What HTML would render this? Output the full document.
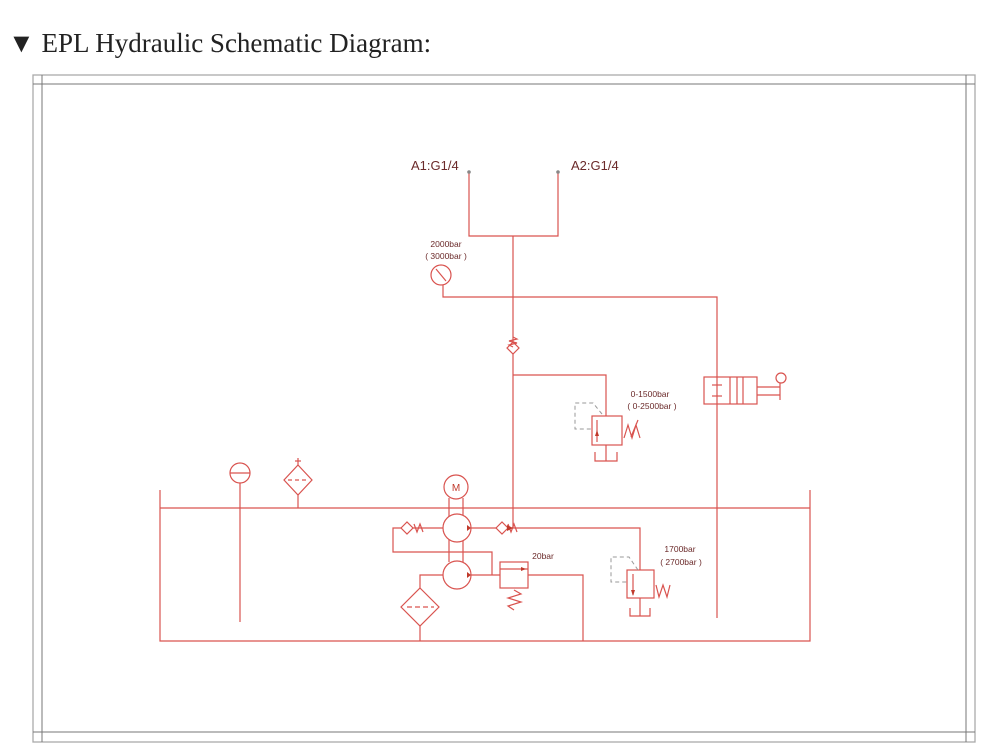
<!DOCTYPE html>
<html><head><meta charset="utf-8"><style>
body{margin:0;background:#fff;width:1000px;height:750px;overflow:hidden}
svg{position:absolute;left:0;top:0}
</style></head><body>
<svg width="1000" height="750" viewBox="0 0 1000 750" xmlns="http://www.w3.org/2000/svg" font-family="Liberation Sans, sans-serif">
<text x="8" y="52" font-family="Liberation Serif, serif" font-size="27" fill="#222">▼ EPL Hydraulic Schematic Diagram:</text>
<g stroke="#aaa" fill="none" stroke-width="1.3">
<rect x="33" y="75" width="942" height="667"/>
</g>
<g stroke="#777" fill="none" stroke-width="1">
<line x1="33" y1="84" x2="975" y2="84"/><line x1="33" y1="732" x2="975" y2="732"/>
<line x1="42" y1="75" x2="42" y2="742"/><line x1="966" y1="75" x2="966" y2="742"/>
</g>
<g stroke="#d9534f" fill="none" stroke-width="1.2">
<polyline points="469,172 469,236 558,236 558,172"/>
<line x1="513" y1="236" x2="513" y2="528"/>
<circle cx="441" cy="275" r="10"/>
<line x1="436" y1="269" x2="446" y2="281"/>
<polyline points="443,285 443,297 717,297 717,618"/>
<path d="M507,348 L513,342 L519,348 L513,354 Z" fill="#fff"/>
<polyline points="513,337 517,339 509,341 517,343 509,345 513,347"/>
<polyline points="513,375 606,375 606,416"/>
<rect x="592" y="416" width="30" height="29"/>
<line x1="597" y1="420" x2="597" y2="442"/>
<polyline points="624,438 628,425 632,438 636,425 640,438"/>
<line x1="631" y1="437" x2="638" y2="420"/>
<polyline points="606,445 606,461"/><polyline points="595,452 595,461 617,461 617,452"/>
<rect x="704" y="377" width="53" height="27"/>
<line x1="730" y1="377" x2="730" y2="404"/><line x1="743" y1="377" x2="743" y2="404"/>
<line x1="712" y1="385" x2="722" y2="385"/><line x1="712" y1="396" x2="722" y2="396"/>
<line x1="737" y1="377" x2="737" y2="404"/>
<polyline points="757,387 780,387"/><polyline points="757,395 780,395"/>
<line x1="780" y1="383" x2="780" y2="400"/>
<circle cx="781" cy="378" r="5"/>
<polyline points="160,490 160,641 810,641 810,490"/>
<line x1="160" y1="508" x2="810" y2="508"/>
<circle cx="240" cy="473" r="10"/><line x1="230" y1="473" x2="250" y2="473"/>
<line x1="240" y1="483" x2="240" y2="622"/>
<path d="M298,465 L312,480 L298,495 L284,480 Z"/>
<line x1="288" y1="480" x2="308" y2="480" stroke-dasharray="4,3"/>
<line x1="298" y1="458" x2="298" y2="465"/><line x1="295" y1="461" x2="301" y2="461"/>
<line x1="298" y1="495" x2="298" y2="508"/>
<circle cx="456" cy="487" r="12"/>
<line x1="449" y1="498" x2="449" y2="562"/><line x1="463" y1="498" x2="463" y2="562"/>
<circle cx="457" cy="528" r="14" fill="#fff"/>
<circle cx="457" cy="575" r="14" fill="#fff"/>
<polyline points="471,528 640,528 640,570"/>
<path d="M496,528 L502,522 L508,528 L502,534 Z" fill="#fff"/>
<polyline points="508,524 511,532 514,524 517,532"/>
<polyline points="443,528 393,528 393,552 492,552 492,575"/>
<path d="M401,528 L407,522 L413,528 L407,534 Z" fill="#fff"/>
<polyline points="414,524 417,532 420,524 423,532"/>
<line x1="471" y1="575" x2="500" y2="575"/>
<rect x="500" y="562" width="28" height="26"/>
<line x1="500" y1="569" x2="528" y2="569"/>
<polyline points="528,575 583,575 583,641"/>
<polyline points="514,590 521,594 508,598 521,602 508,606 514,610"/>
<polyline points="443,575 420,575 420,588"/>
<path d="M420,588 L439,607 L420,626 L401,607 Z"/>
<line x1="407" y1="607" x2="434" y2="607" stroke-dasharray="5,3"/>
<line x1="420" y1="626" x2="420" y2="641"/>
<rect x="627" y="570" width="27" height="28"/>
<line x1="633" y1="574" x2="633" y2="595"/>
<polyline points="656,585 659,597 663,585 667,597 670,585"/>
<polyline points="640,598 640,616"/><polyline points="630,608 630,616 650,616 650,608"/>
</g>
<g stroke="#999" fill="none" stroke-width="1" stroke-dasharray="4,3">
<polyline points="602,414 593,403 575,403 575,429 592,429"/>
<polyline points="638,570 629,557 611,557 611,582 627,582"/>
</g>
<g fill="#c0392b">
<polygon points="507,531 513,528 507,525"/>
<polygon points="467,531 471,528 467,525"/>
<polygon points="467,578 471,575 467,572"/>
<polygon points="521,567 526,569 521,571"/>
<polygon points="595,436 597,430 599,436"/>
<polygon points="631,590 633,596 635,590"/>
<circle cx="469" cy="172" r="1.8" fill="#888"/><circle cx="558" cy="172" r="1.8" fill="#888"/>
</g>
<g fill="#6b2a2a">
<text x="411" y="170" font-size="13">A1:G1/4</text>
<text x="571" y="170" font-size="13">A2:G1/4</text>
<text x="446" y="247" font-size="8.5" text-anchor="middle">2000bar</text>
<text x="446" y="259" font-size="8.5" text-anchor="middle">( 3000bar )</text>
<text x="650" y="397" font-size="8.5" text-anchor="middle">0-1500bar</text>
<text x="652" y="409" font-size="8.5" text-anchor="middle">( 0-2500bar )</text>
<text x="543" y="559" font-size="8.5" text-anchor="middle">20bar</text>
<text x="680" y="552" font-size="8.5" text-anchor="middle">1700bar</text>
<text x="681" y="565" font-size="8.5" text-anchor="middle">( 2700bar )</text>
<text x="456" y="491" font-size="10" text-anchor="middle" fill="#c0392b">M</text>
</g>
</svg>
</body></html>
